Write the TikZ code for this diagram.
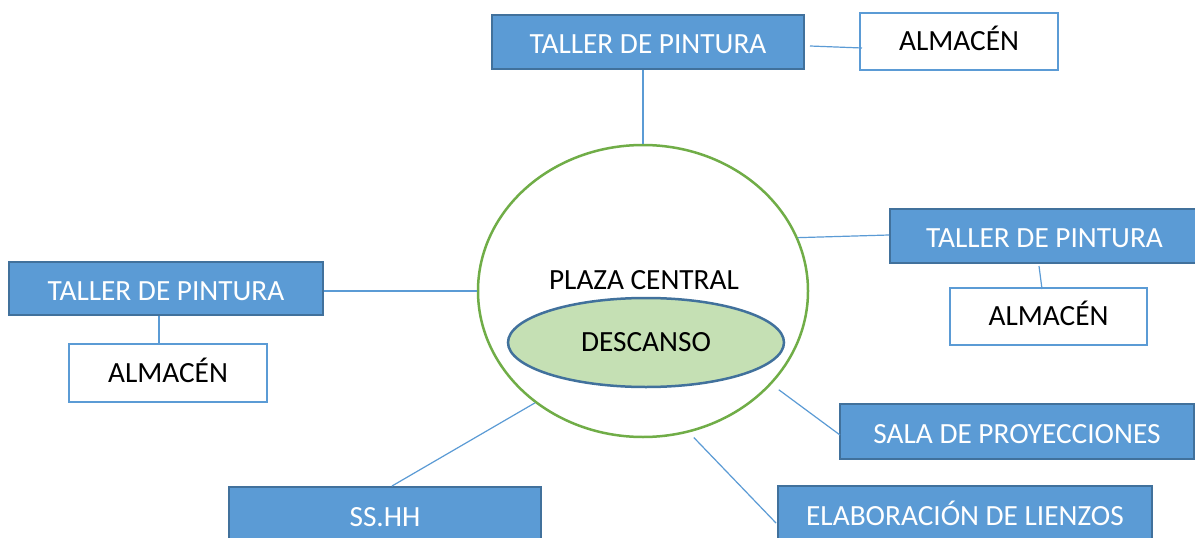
\documentclass[tikz,border=0pt]{standalone}
\usepackage{fontspec}
\setmainfont{Carlito}
\usetikzlibrary{shapes.geometric,calc}
\definecolor{boxblue}{HTML}{5B9BD5}
\definecolor{boxedge}{HTML}{41719C}
\definecolor{ringgreen}{HTML}{70AD47}
\definecolor{restgreen}{HTML}{C5E0B4}
\begin{document}
\begin{tikzpicture}[x=1pt,y=-1pt,
  labelfont/.style={font=\fontsize{29.3}{34}\selectfont},
  bluebox/.style={draw=boxedge, line width=2pt, fill=boxblue, text=white, labelfont,
    inner sep=0pt, text height=23pt, text depth=0pt},
  whitebox/.style={draw=boxblue, line width=2pt, fill=white, text=black, labelfont,
    inner sep=0pt, text height=18.5pt, text depth=0pt},
  link/.style={draw=boxblue, line width=1.2pt}]
\useasboundingbox (0,0) rectangle (1195,538);
\clip (0,0) rectangle (1195,538);
\fill[white] (0,0) rectangle (1195,538);

% central plaza
\node[ellipse, draw=ringgreen, line width=2.5pt, fill=white, inner sep=0pt,
  minimum width=330pt, minimum height=292pt] (plaza) at (643,291) {};
\node[ellipse, draw=boxedge, line width=2.5pt, fill=restgreen, inner sep=0pt,
  minimum width=276pt, minimum height=89pt, labelfont, text=black] (rest) at (646,342.5) {DESCANSO};
\node[labelfont, text=black, inner sep=0pt] (plazatxt) at (644,280) {PLAZA CENTRAL};

% boxes
\node[bluebox, minimum width=312pt, minimum height=54pt] (t1) at (648,42) {TALLER DE PINTURA};
\node[whitebox, minimum width=198pt, minimum height=57pt] (a1) at (959,41.5) {ALMACÉN};
\node[bluebox, minimum width=309pt, minimum height=54pt] (t2) at (1044.5,236) {TALLER DE PINTURA};
\node[whitebox, minimum width=197pt, minimum height=57pt] (a2) at (1048.5,316.5) {ALMACÉN};
\node[bluebox, minimum width=314pt, minimum height=53pt] (t3) at (166,288.5) {TALLER DE PINTURA};
\node[whitebox, minimum width=198pt, minimum height=58pt] (a3) at (168,373) {ALMACÉN};
\node[bluebox, minimum width=354pt, minimum height=55pt] (sala) at (1017,431.5) {SALA DE PROYECCIONES};
\node[bluebox, minimum width=374pt, minimum height=55pt] (elab) at (965,513.5) {ELABORACIÓN DE LIENZOS};
\node[bluebox, minimum width=312pt, minimum height=55pt] (ss) at (385,514.5) {SS.HH};

% connectors
\coordinate (t3s) at ($(t3.south)+(-7,0)$);
\draw[link] (plaza.north |- t1.south) -- (plaza.north);
\draw[link] ($(t1.east)+(5,4)$) -- ($(a1.west)+(3,6.5)$);
\draw[link] (plaza.19) -- ($(t2.west)+(0,-1)$);
\draw[link] ($(t2.south)+(-5.5,2)$) -- ($(a2.north)+(-6.5,2)$);
\draw[link] (plaza.west) -- (t3.east |- plaza.west);
\draw[link] (t3s) -- (t3s |- a3.north);
\draw[link] ($(ss.north)+(7,0)$) -- (plaza.226.6);
\draw[link, shorten <=9pt] (plaza.-36) -- ($(sala.west)+(1,3.5)$);
\draw[link, shorten <=7pt] (plaza.-72) -- ($(elab.west)+(-1,9.5)$);
\end{tikzpicture}
\end{document}
